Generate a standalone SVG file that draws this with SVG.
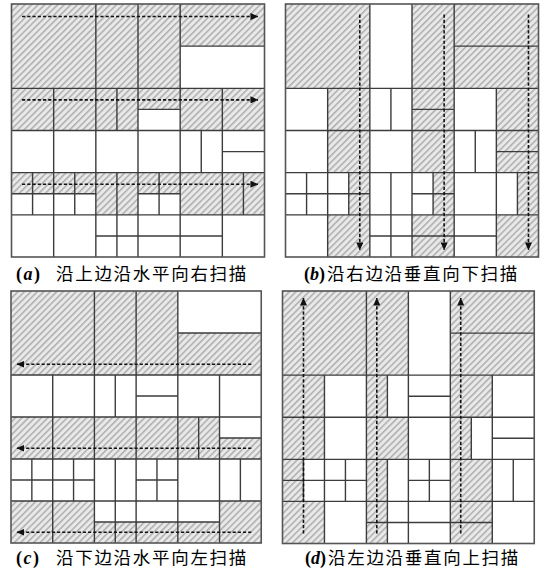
<svg xmlns="http://www.w3.org/2000/svg" xmlns:xlink="http://www.w3.org/1999/xlink" width="545" height="572" viewBox="0 0 545 572">
<style>
.bg{fill:#ffffff}
.ht{fill:url(#hatch)}
.grid{fill:none;stroke:#3c3c3c;stroke-width:1.4}
.frame{fill:none;stroke:#555;stroke-width:1.6}
.scan{fill:none;stroke:#111;stroke-width:1.6;stroke-dasharray:3.2 2;marker-end:url(#ah)}
.lab{font-family:"Liberation Serif",serif;font-weight:bold;font-size:18px;fill:#000}
.cap{font-family:"Noto Sans CJK SC",sans-serif;font-size:17.5px;letter-spacing:1.7px;fill:#000}
</style>
<defs>
<pattern id="hatch" width="4.6" height="4.6" patternUnits="userSpaceOnUse" patternTransform="rotate(45)">
<rect width="4.6" height="4.6" fill="#e9e9e9"/>
<line x1="0.8" y1="0" x2="0.8" y2="4.6" stroke="#a8a8a8" stroke-width="1.4"/>
</pattern>
<marker id="ah" viewBox="0 0 8 7" refX="7.5" refY="3.5" markerWidth="8" markerHeight="7" markerUnits="userSpaceOnUse" orient="auto">
<path d="M0,0 L8,3.5 L0,7 Z" fill="#111"/>
</marker>
<path id="gridlines" d="M0 84H252M0 126H252M0 168H252M0 210H252M84 0V252M126 0V252M168 0V252M42 84V252M210 84V252M21 168V210M63 168V210M105 84V126M105 168V252M147 168V210M189 126V168M231 168V210M168 42H252M126 105H168M210 147H252M0 189H84M126 189H168M84 231H210"/>
</defs>

<g id="panel-a" transform="translate(11.5,4) scale(1.004)">
<rect class="bg" x="0" y="0" width="252" height="252"/>
<g id="hatched-a">
<rect class="ht" x="0" y="0" width="168" height="84"/>
<rect class="ht" x="168" y="0" width="84" height="42"/>
<rect class="ht" x="0" y="84" width="126" height="42"/>
<rect class="ht" x="126" y="84" width="42" height="21"/>
<rect class="ht" x="168" y="84" width="84" height="42"/>
<rect class="ht" x="0" y="168" width="84" height="21"/>
<rect class="ht" x="84" y="168" width="42" height="42"/>
<rect class="ht" x="126" y="168" width="42" height="21"/>
<rect class="ht" x="168" y="168" width="84" height="42"/>
</g>
<use xlink:href="#gridlines" class="grid"/>
<rect class="frame" x="0" y="0" width="252" height="252"/>
<g id="scan-a">
<line class="scan" x1="10.5" y1="12.5" x2="245.5" y2="12.5"/>
<line class="scan" x1="10.5" y1="95.5" x2="245.5" y2="95.5"/>
<line class="scan" x1="10.5" y1="179.5" x2="245.5" y2="179.5"/>
</g>
</g>

<g id="panel-b" transform="translate(285.5,4) scale(1.004)">
<rect class="bg" x="0" y="0" width="252" height="252"/>
<g id="hatched-b">
<rect class="ht" x="0" y="0" width="84" height="84"/>
<rect class="ht" x="42" y="84" width="42" height="84"/>
<rect class="ht" x="63" y="168" width="21" height="42"/>
<rect class="ht" x="42" y="210" width="42" height="42"/>
<rect class="ht" x="126" y="0" width="42" height="168"/>
<rect class="ht" x="147" y="168" width="21" height="42"/>
<rect class="ht" x="126" y="210" width="42" height="42"/>
<rect class="ht" x="168" y="0" width="84" height="84"/>
<rect class="ht" x="210" y="84" width="42" height="84"/>
<rect class="ht" x="231" y="168" width="21" height="42"/>
<rect class="ht" x="210" y="210" width="42" height="42"/>
</g>
<use xlink:href="#gridlines" class="grid"/>
<rect class="frame" x="0" y="0" width="252" height="252"/>
<g id="scan-b">
<line class="scan" x1="74" y1="10.5" x2="74" y2="245"/>
<line class="scan" x1="158" y1="10.5" x2="158" y2="245"/>
<line class="scan" x1="242" y1="10.5" x2="242" y2="245"/>
</g>
</g>

<g id="panel-c" transform="translate(11,291) scale(0.993,1)">
<rect class="bg" x="0" y="0" width="252" height="252"/>
<g id="hatched-c">
<rect class="ht" x="0" y="0" width="168" height="84"/>
<rect class="ht" x="168" y="42" width="84" height="42"/>
<rect class="ht" x="0" y="126" width="210" height="42"/>
<rect class="ht" x="210" y="147" width="42" height="21"/>
<rect class="ht" x="0" y="210" width="84" height="42"/>
<rect class="ht" x="84" y="231" width="126" height="21"/>
<rect class="ht" x="210" y="210" width="42" height="42"/>
</g>
<use xlink:href="#gridlines" class="grid"/>
<rect class="frame" x="0" y="0" width="252" height="252"/>
<g id="scan-c">
<line class="scan" x1="242" y1="73.3" x2="6" y2="73.3"/>
<line class="scan" x1="242" y1="157.3" x2="6" y2="157.3"/>
<line class="scan" x1="242" y1="241.3" x2="6" y2="241.3"/>
</g>
</g>

<g id="panel-d" transform="translate(282.5,291) scale(0.999,1.002)">
<rect class="bg" x="0" y="0" width="252" height="252"/>
<g id="hatched-d">
<rect class="ht" x="0" y="0" width="84" height="84"/>
<rect class="ht" x="0" y="84" width="42" height="84"/>
<rect class="ht" x="0" y="168" width="21" height="42"/>
<rect class="ht" x="0" y="210" width="42" height="42"/>
<rect class="ht" x="84" y="0" width="42" height="84"/>
<rect class="ht" x="84" y="84" width="21" height="42"/>
<rect class="ht" x="84" y="126" width="42" height="42"/>
<rect class="ht" x="84" y="168" width="21" height="84"/>
<rect class="ht" x="168" y="0" width="84" height="84"/>
<rect class="ht" x="168" y="84" width="42" height="42"/>
<rect class="ht" x="168" y="126" width="21" height="42"/>
<rect class="ht" x="168" y="168" width="42" height="84"/>
</g>
<use xlink:href="#gridlines" class="grid"/>
<rect class="frame" x="0" y="0" width="252" height="252"/>
<g id="scan-d">
<line class="scan" x1="21" y1="242" x2="21" y2="7"/>
<line class="scan" x1="94.4" y1="242" x2="94.4" y2="7"/>
<line class="scan" x1="178.4" y1="242" x2="178.4" y2="7"/>
</g>
</g>

<g id="captions">
<text class="lab" x="16" y="280" letter-spacing="1.5">(<tspan font-style="italic">a</tspan>)</text>
<text class="cap" x="56" y="280">沿上边沿水平向右扫描</text>
<text class="lab" x="304" y="280">(<tspan font-style="italic">b</tspan>)</text>
<text class="cap" x="327" y="280">沿右边沿垂直向下扫描</text>
<text class="lab" x="16" y="564" letter-spacing="1.5">(<tspan font-style="italic">c</tspan>)</text>
<text class="cap" x="56" y="564">沿下边沿水平向左扫描</text>
<text class="lab" x="305" y="564">(<tspan font-style="italic">d</tspan>)</text>
<text class="cap" x="328" y="564">沿左边沿垂直向上扫描</text>
</g>
</svg>
